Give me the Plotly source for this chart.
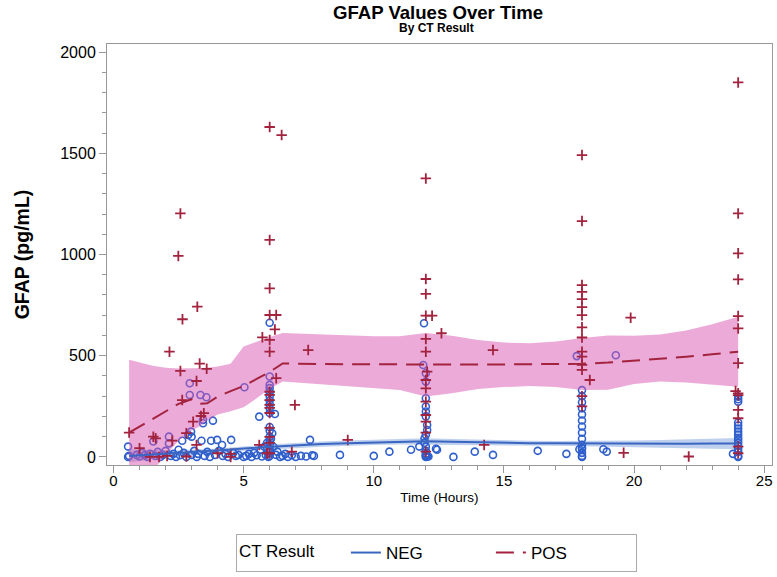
import plotly.graph_objects as go

# ---------------- data ----------------
neg_time = [0.56, 0.56, 0.6, 0.9, 1.0, 1.1, 1.2, 1.3, 1.4, 1.53, 1.6, 1.7, 1.8, 1.9, 2.0, 2.13, 2.13, 2.2, 2.3, 2.4,
            2.5, 2.55, 2.64, 2.7, 2.8, 2.87, 2.93, 2.93, 2.98, 3.0, 3.0, 3.1, 3.2, 3.25, 3.34, 3.38, 3.44, 3.44, 3.5, 3.57,
            3.6, 3.7, 3.75, 3.82, 3.9, 3.98, 4.05, 4.17, 4.2, 4.3, 4.4, 4.52, 4.6, 4.7, 4.8, 5.03, 5.0,
            5.1, 5.2, 5.3, 5.4, 5.5, 5.6, 5.65, 5.7, 5.8, 5.85, 5.9, 5.95, 6.0, 6.0, 6.0, 6.0, 6.0, 6.0, 6.0,
            6.0, 6.0, 6.0, 6.0, 6.0, 6.0, 6.0, 6.0, 6.0, 6.0, 6.0, 6.0, 6.05, 6.1, 6.14, 6.2, 6.25, 6.3, 6.4,
            6.5, 6.6, 6.7, 6.85, 7.0, 7.2, 7.4, 7.55, 7.63, 7.7,
            8.7, 10.0, 10.6, 11.43, 11.75, 11.9,
            11.93, 12.0, 12.0, 12.0, 12.0, 12.0, 12.0, 12.05, 12.05, 12.0, 11.95, 11.95, 12.0, 12.0, 12.0, 12.0,
            12.0, 12.0, 12.05, 12.1, 12.39, 12.43, 13.06, 13.88, 14.58,
            16.3, 17.4, 17.8,
            18.0, 18.0, 18.0, 18.0, 18.0, 18.0, 18.0, 18.0, 18.0, 18.0, 18.0, 18.0, 18.0, 18.0, 18.0, 17.9,
            18.82, 18.95, 19.3,
            24.0, 24.0, 24.0, 24.0, 24.0, 24.0, 24.0, 24.0, 24.0, 24.0, 24.0, 24.0, 24.0, 24.0, 23.8, 24.0, 24.0, 24.0]
neg_gfap = [51, 0, 5, 10, 2, 20, 8, 0, 15, 76, 5, 25, 0, 10, 30, 100, 67, 5, 15, 0,
            35, 8, 80, 20, 0, 109, 364, 306, 125, 100, 10, 30, 0, 15, 306, 80, 183, 166, 5, 295,
            25, 0, 80, 179, 10, 84, 30, 59, 5, 15, 0, 84, 20, 5, 10, 344, 0,
            5, 15, 0, 20, 8, 199, 35, 2, 50, 10, 70, 0, 663, 397, 356, 340, 320, 300, 280,
            260, 240, 217, 148, 130, 99, 80, 60, 40, 20, 5, 30, 90, 117, 50, 212, 10, 25,
            0, 5, 15, 0, 8, 0, 5, 2, 84, 8,
            5, 10, 5, 26, 35, 51,
            454, 660, 413, 372, 290, 249, 224, 200, 158, 133, 109, 92, 70, 51, 30, 15,
            5, 0, 10, 2, 2, 40, 35, 0, 26,
            10, 30, 15,
            498, 330, 300, 270, 240, 210, 180, 150, 120, 90, 60, 40, 20, 5, 0, 45,
            38, 38, 26,
            502, 298, 285, 273, 170, 155, 140, 125, 110, 95, 84, 70, 55, 40, 26, 15, 5, 0]

pos_time = [0.6, 1.0, 1.4, 1.53, 1.62, 1.75, 2.06, 2.15, 2.26, 2.49, 2.57, 2.57, 2.64, 2.65, 2.8, 2.8, 3.06, 3.19,
            3.19, 3.22, 3.31, 3.36, 3.47, 3.58, 4.0, 4.5, 4.5,
            5.6, 5.72, 5.9, 6.0, 6.0, 6.0, 6.0, 6.0, 6.0, 6.0, 6.0, 6.0, 6.0, 6.0, 6.0, 6.0, 6.0, 6.0, 6.0,
            6.2, 6.25, 6.25, 6.46, 6.85, 6.97, 7.48, 9.0,
            12.0, 12.0, 12.0, 12.0, 12.24, 12.6, 12.0, 12.0, 12.05, 12.0, 12.0, 12.0, 12.0, 12.0, 12.0, 12.0,
            14.24, 14.58,
            18.0, 18.0, 18.0, 18.0, 18.0, 18.0, 18.0, 18.0, 18.0, 18.0, 18.0, 18.0, 18.0, 18.3, 18.0, 18.0,
            19.6, 19.87, 22.1,
            24.0, 24.0, 24.0, 24.0, 24.0, 24.0, 24.0, 23.9, 24.0, 24.0, 24.0, 24.0, 24.0, 24.0]
pos_gfap = [120, 43, 0, 100, 92, 0, 5, 520, 80, 993, 1203, 425, 281, 680, 117, 2, 174, 375,
            59, 742, 461, 202, 216, 435, 18, 0, 15,
            59, 591, 18, 1630, 1072, 833, 701, 578, 520, 322, 306, 281, 257, 242, 217, 143, 99, 69, 18,
            630, 701, 389, 1590, 26, 257, 528, 84,
            1376, 879, 805, 698, 698, 611, 583, 520, 421, 380, 339, 273, 207, 174, 120, 26,
            59, 528,
            1491, 1165, 849, 815, 780, 740, 700, 640, 590, 520, 495, 455, 430, 380, 300, 250,
            20, 688, 2,
            1850, 1203, 1006, 877, 696, 635, 463, 325, 314, 305, 232, 191, 51, 18]

fit_time = [0.6, 1.0, 1.5, 2.0, 2.5, 3.0, 3.3, 3.6, 4.0, 4.5, 5.0, 5.5, 6.0, 6.5, 7, 8, 9, 10, 11, 12,
            13, 14, 15, 16, 17, 18, 19, 20, 21, 22, 23, 24]
pos_fit = [120, 150, 190, 225, 262, 285, 262, 265, 298, 325, 350, 385, 420, 462, 460, 459, 458, 457, 456, 455,
           455, 456, 457, 458, 459, 460, 466, 475, 485, 495, 507, 520]
pos_upper = [480, 468, 450, 440, 437, 438, 439, 441, 447, 460, 545, 570, 592, 612, 610, 605, 600, 596, 596, 612,
             598, 578, 565, 562, 570, 588, 600, 598, 605, 625, 655, 693]
pos_lower = [-240, -160, -70, 10, 80, 130, 150, 180, 210, 225, 245, 290, 335, 372, 370, 360, 350, 340, 330, 298,
             315, 335, 345, 350, 345, 330, 332, 360, 372, 368, 358, 347]
neg_fit = [5, 8, 12, 15, 18, 22, 24, 26, 30, 36, 42, 46, 50, 53, 56, 64, 68, 72, 75, 77,
           75, 72, 70, 68, 67, 66, 65, 65, 65, 65, 66, 66]
neg_upper = [38, 36, 34, 33, 33, 35, 36, 38, 41, 46, 52, 56, 61, 65, 69, 76, 81, 85, 89, 92,
             89, 85, 82, 80, 79, 79, 79, 81, 83, 86, 90, 94]
neg_lower = [-28, -20, -10, -3, 3, 9, 12, 14, 19, 24, 30, 34, 39, 41, 43, 50, 55, 59, 61, 62,
             61, 59, 58, 56, 55, 53, 51, 49, 47, 44, 41, 38]

x_ticks = [0, 5, 10, 15, 20, 25]
y_ticks = [0, 500, 1000, 1500, 2000]

# ---------------- style ----------------
NEG_C = "#2F5FCC"
NEG_LINE = "#3A66C2"
POS_C = "#A3233F"
FONT = "Liberation Sans, Arial, sans-serif"

fig = go.Figure()

fig.add_trace(go.Scatter(x=fit_time + fit_time[::-1], y=neg_upper + neg_lower[::-1], fill="toself",
                         fillcolor="rgba(110,150,215,0.45)", line=dict(width=0), mode="lines",
                         showlegend=False, hoverinfo="skip"))
fig.add_trace(go.Scatter(x=neg_time, y=neg_gfap, mode="markers", showlegend=False,
                         marker=dict(symbol="circle-open", size=7, color=NEG_C, line=dict(width=1.6, color=NEG_C))))
fig.add_trace(go.Scatter(x=fit_time + fit_time[::-1], y=pos_upper + pos_lower[::-1], fill="toself",
                         fillcolor="rgba(215,85,175,0.5)", line=dict(width=0), mode="lines",
                         showlegend=False, hoverinfo="skip"))
fig.add_trace(go.Scatter(x=pos_time, y=pos_gfap, mode="markers", showlegend=False,
                         marker=dict(symbol="cross-thin", size=7.5, color=POS_C, line=dict(width=1.8, color=POS_C))))
fig.add_trace(go.Scatter(x=fit_time, y=neg_fit, mode="lines", name="NEG",
                         line=dict(color=NEG_LINE, width=2)))
fig.add_trace(go.Scatter(x=fit_time, y=pos_fit, mode="lines", name="POS",
                         line=dict(color=POS_C, width=2, dash="18px,9px")))

fig.update_layout(
    width=777, height=577,
    margin=dict(l=107, r=5, t=44, b=112, autoexpand=False),
    paper_bgcolor="white", plot_bgcolor="white",
    font=dict(family=FONT, color="black"),
    title=dict(text="<b>GFAP Values Over Time</b>", x=438 / 777, xanchor="center",
               y=1 - 12 / 577, yanchor="middle", yref="container",
               font=dict(size=18.6, family=FONT)),
    annotations=[dict(text="<b>By CT Result</b>", xref="paper", yref="paper", x=0.4955, y=1 + 16 / 421,
                      xanchor="center", yanchor="middle", showarrow=False,
                      font=dict(size=12, family=FONT))],
    legend=dict(orientation="h", x=0.4955, xanchor="center", y=-107 / 421, yanchor="bottom",
                bordercolor="#aaaaaa", borderwidth=1, font=dict(size=17, family=FONT),
                title=dict(text="CT Result     ", side="left", font=dict(size=17, family=FONT)),
                entrywidth=100, traceorder="normal"),
    showlegend=True,
)

fig.update_xaxes(range=[-0.25, 25.3], tickvals=x_ticks, ticktext=[str(v) for v in x_ticks], automargin=False,
                 showgrid=False, zeroline=False, showline=True, linecolor="#999999", linewidth=1, mirror=True,
                 ticks="outside", ticklen=7, tickcolor="#999999", tickfont=dict(size=15, family=FONT),
                 ticklabelstandoff=-5,
                 minor=dict(dtick=1, ticks="outside", ticklen=4, tickcolor="#999999", showgrid=False),
                 title=dict(text="Time (Hours)", font=dict(size=13.5, family=FONT), standoff=4))
fig.update_yaxes(range=[-40, 2040], tickvals=y_ticks, ticktext=[str(v) for v in y_ticks], automargin=False,
                 showgrid=False, zeroline=False, showline=True, linecolor="#999999", linewidth=1, mirror=True,
                 ticks="outside", ticklen=7, tickcolor="#999999", tickfont=dict(size=16, family=FONT),
                 minor=dict(dtick=100, ticks="outside", ticklen=4, tickcolor="#999999", showgrid=False),
                 title=dict(text="<b>GFAP (pg/mL)</b>", font=dict(size=19.5, family=FONT), standoff=25))

fig.write_html("out.html", config={"displayModeBar": False},
               post_script="document.body.style.margin='0';")
